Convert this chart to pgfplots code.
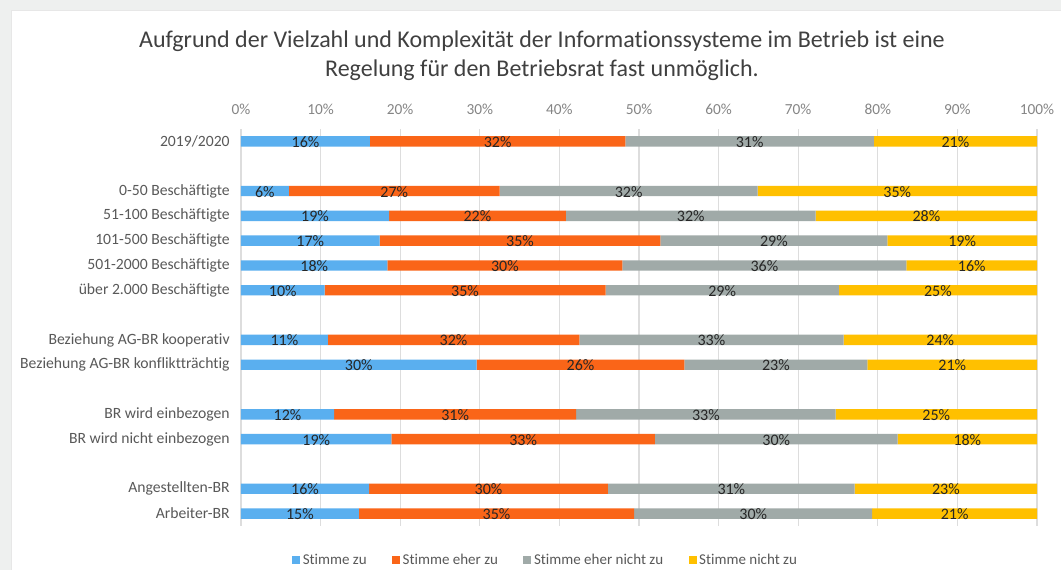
\documentclass[border=0pt]{standalone}
\usepackage{pgfplots}
\usepackage{pgfplotstable}
\pgfplotsset{compat=1.18}
\usepackage{fontspec}
\setmainfont{Carlito}[Ligatures={NoCommon}]
\definecolor{cblue}{HTML}{5AAFEF}
\definecolor{corange}{HTML}{FA6518}
\definecolor{cgray}{HTML}{A0AAA8}
\definecolor{cyellow}{HTML}{FFC000}
\definecolor{gridc}{HTML}{DDDDDD}
\definecolor{ticktxt}{HTML}{858585}
\definecolor{cattxt}{HTML}{595959}
\definecolor{titletxt}{HTML}{404040}
\definecolor{valtxt}{HTML}{262626}
\definecolor{bgc}{HTML}{EEF0EF}

\pgfplotstableread{
y a b c d la lb lc ld
0 16.2 32.1 31.2 20.5 16\% 32\% 31\% 21\%
2 6.0 26.5 32.4 35.1 6\% 27\% 32\% 35\%
3 18.6 22.2 31.4 27.8 19\% 22\% 32\% 28\%
4 17.4 35.3 28.5 18.8 17\% 35\% 29\% 19\%
5 18.4 29.5 35.7 16.4 18\% 30\% 36\% 16\%
6 10.5 35.3 29.3 24.9 10\% 35\% 29\% 25\%
8 10.9 31.6 33.2 24.3 11\% 32\% 33\% 24\%
9 29.6 26.1 23.0 21.3 30\% 26\% 23\% 21\%
11 11.7 30.4 32.6 25.3 12\% 31\% 33\% 25\%
12 18.9 33.1 30.5 17.5 19\% 33\% 30\% 18\%
14 16.1 30.0 31.0 22.9 16\% 30\% 31\% 23\%
15 14.8 34.6 29.9 20.7 15\% 35\% 30\% 21\%
}\data

\begin{document}
\begin{tikzpicture}[x=0.75pt,y=-0.75pt]
\fill[bgc] (0,0) rectangle (1061,570);
\fill[white] (11,10) rectangle (1061,570);
\draw[gridc!70] (11,570) -- (11,10) -- (1061,10);
\node[text=titletxt, font=\fontsize{18}{21.75}\selectfont, align=center] at (542,56)
  {Aufgrund der Vielzahl und Komplexität der Informationssysteme im Betrieb ist eine\\Regelung für den Betriebsrat fast unmöglich.};
\begin{axis}[
  at={(180.75pt,-96.75pt)}, anchor=north west,
  scale only axis, width=597pt, height=297.75pt,
  xbar stacked, bar width=0.42,
  xmin=0, xmax=100, ymin=-0.5, ymax=15.5,
  y dir=reverse,
  axis line style={draw=none},
  xtick={0,10,...,100},
  xticklabel pos=top,
  xticklabel={\pgfmathprintnumber{\tick}\%},
  /pgf/number format/assume math mode=true,
  xticklabel style={text=ticktxt, font=\fontsize{11.5}{13}\selectfont, yshift=7.5pt},
  xmajorgrids, major grid style={gridc, line width=0.8pt},
  major tick length=0pt,
  ytick={0,2,3,4,5,6,8,9,11,12,14,15},
  yticklabels={2019/2020, 0-50 Beschäftigte, 51-100 Beschäftigte, 101-500 Beschäftigte, 501-2000 Beschäftigte, über 2.000 Beschäftigte, Beziehung AG-BR kooperativ, Beziehung AG-BR konfliktträchtig, {BR wird einbezogen\ }, BR wird nicht einbezogen, Angestellten-BR, Arbeiter-BR},
  yticklabel style={text=cattxt, font=\fontsize{11.75}{13}\selectfont, xshift=-5pt},
  nodes near coords,
  point meta=explicit symbolic,
  every node near coord/.append style={anchor=center, text=valtxt, font=\fontsize{12}{13}\selectfont, yshift=-0.5pt},
  legend style={at={(0.383,-0.086)}, anchor=center, draw=none, fill=none,
    legend columns=4, font=\fontsize{11.25}{13}\selectfont, text=cattxt,
    /tikz/every even column/.append style={column sep=17pt}},
  legend image code/.code={\fill[#1] (0pt,-3pt) rectangle (6pt,3pt);},
]
\addplot[fill=cblue, draw=none] table[x=a, y=y, meta=la] {\data};
\addplot[fill=corange, draw=none] table[x=b, y=y, meta=lb] {\data};
\addplot[fill=cgray, draw=none] table[x=c, y=y, meta=lc] {\data};
\addplot[fill=cyellow, draw=none] table[x=d, y=y, meta=ld] {\data};
\legend{Stimme zu, Stimme eher zu, Stimme eher nicht zu, Stimme nicht zu}
\end{axis}
\pgfresetboundingbox
\path[use as bounding box] (0,0) rectangle (1061,570);
\end{tikzpicture}
\end{document}
